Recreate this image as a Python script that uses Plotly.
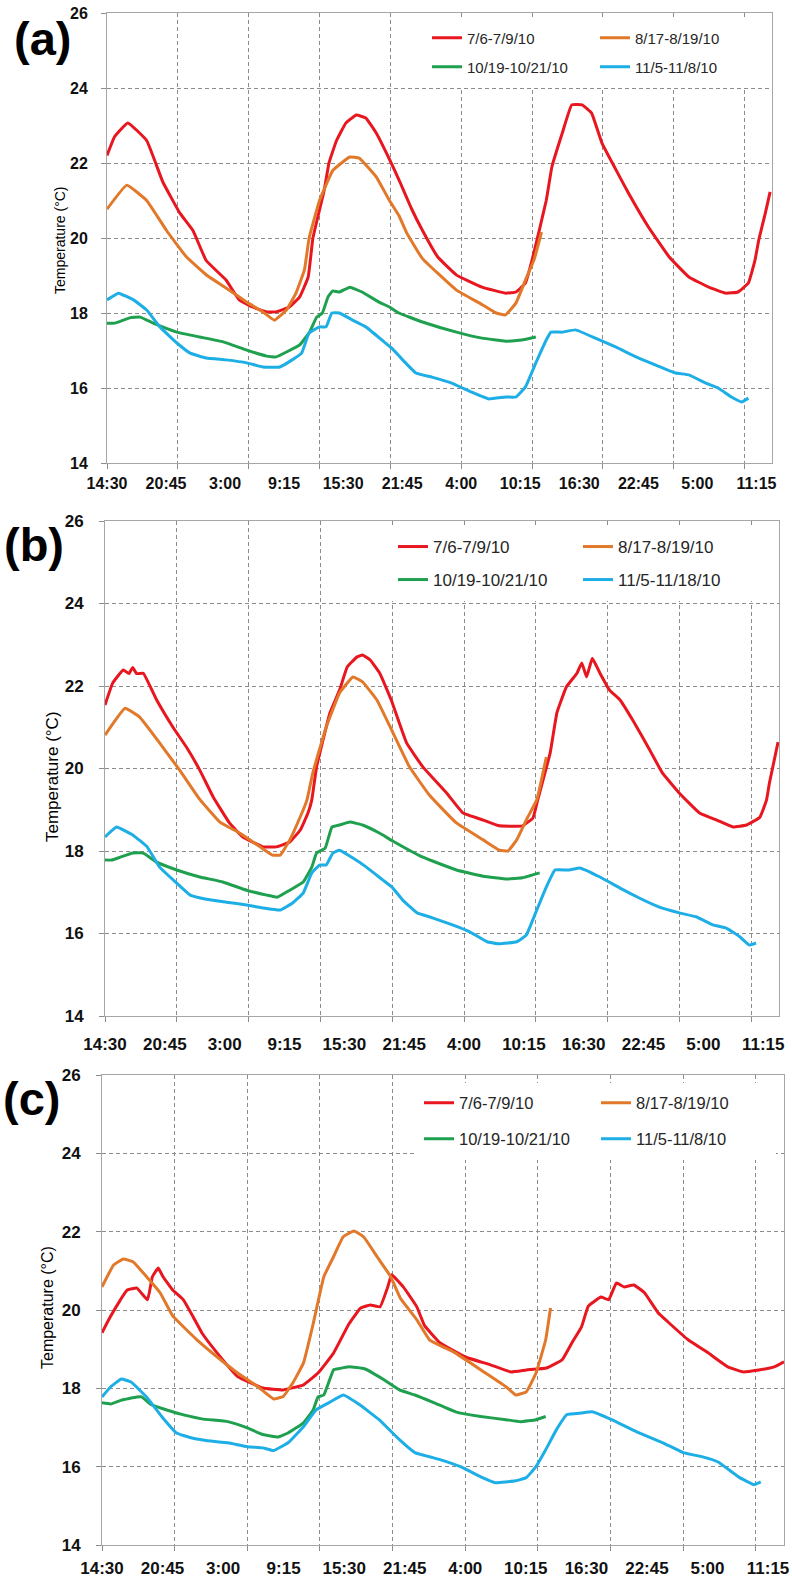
import plotly.graph_objects as go

# ---------------- data (hours since 14:30 on day 1, temperature in °C) ----------------
TICK_HOURS = [0, 6.25, 12.5, 18.75, 25, 31.25, 37.5, 43.75, 50, 56.25, 62.5, 68.75]
TICK_TEXT = ["14:30", "20:45", "3:00", "9:15", "15:30", "21:45", "4:00", "10:15",
             "16:30", "22:45", "5:00", "11:15"]

NAMES_A = ["7/6-7/9/10", "8/17-8/19/10", "10/19-10/21/10", "11/5-11/8/10"]
NAMES_B = ["7/6-7/9/10", "8/17-8/19/10", "10/19-10/21/10", "11/5-11/18/10"]
NAMES_C = ["7/6-7/9/10", "8/17-8/19/10", "10/19-10/21/10", "11/5-11/8/10"]

# Panel (a)
A_RED_H = [0, 0.8, 2.2, 4.2, 5.9, 7.7, 9.1, 10.5, 12.6, 14.0, 15.4, 16.9, 17.9, 19.3, 20.4, 21.3, 21.8,
           23.0, 23.5, 24.3, 25.3, 26.4, 27.4, 28.5, 29.9, 31.0, 32.2, 33.4, 35.0, 37.0, 39.7, 42.2, 43.3,
           44.3, 45.0, 46.5, 47.1, 48.2, 49.2, 50.3, 51.3, 52.4, 53.9, 55.2, 57.3, 59.5, 61.6, 63.7, 65.5,
           66.8, 67.9, 68.6, 69.0, 69.7, 70.2]
A_RED_T = [22.2, 22.7, 23.07, 22.6, 21.5, 20.67, 20.2, 19.4, 18.88, 18.35, 18.16, 18.03, 18.03, 18.16, 18.43,
           18.96, 20.0, 21.28, 22.0, 22.6, 23.07, 23.28, 23.2, 22.8, 22.1, 21.5, 20.8, 20.2, 19.5, 19.01,
           18.69, 18.53, 18.56, 18.8, 19.41, 21.0, 21.9, 22.8, 23.55, 23.55, 23.33, 22.53, 21.81, 21.2,
           20.3, 19.5, 18.96, 18.69, 18.53, 18.56, 18.8, 19.41, 19.95, 20.67, 21.23]
A_ORA_H = [0, 2.1, 4.2, 6.3, 8.4, 10.6, 12.6, 14.8, 16.5, 17.7, 19.0, 20.0, 20.9, 21.4, 22.5, 23.9, 25.7,
           26.7, 28.5, 29.9, 30.9, 31.7, 33.4, 37.0, 39.4, 41.2, 42.2, 43.3, 44.3, 45.2, 46.0]
A_ORA_T = [20.77, 21.41, 21.0, 20.2, 19.5, 19.0, 18.67, 18.29, 18.03, 17.81, 18.08, 18.53, 19.15, 20.0,
           21.0, 21.8, 22.16, 22.13, 21.63, 21.0, 20.6, 20.15, 19.45, 18.61, 18.27, 18.0, 17.95, 18.27,
           18.88, 19.41, 20.16]
A_GRN_H = [0, 0.85, 2.4, 3.5, 4.9, 7.4, 9.8, 12.3, 14.8, 16.9, 17.9, 19.0, 20.4, 21.4, 22.2, 22.8, 23.4,
           23.9, 24.6, 25.7, 27.0, 28.8, 29.9, 30.9, 33.4, 37.0, 39.7, 42.2, 43.9, 45.4]
A_GRN_T = [17.73, 17.73, 17.87, 17.89, 17.73, 17.49, 17.36, 17.23, 17.01, 16.85, 16.83, 16.96, 17.15,
           17.47, 17.89, 18.0, 18.43, 18.59, 18.56, 18.69, 18.56, 18.29, 18.16, 18.0, 17.76, 17.49,
           17.33, 17.25, 17.28, 17.36]
A_BLU_H = [0, 1.2, 2.8, 4.2, 5.6, 7.4, 8.8, 10.5, 12.6, 14.8, 16.5, 18.3, 19.6, 20.6, 21.4, 22.5, 23.2,
           23.8, 24.6, 26.0, 27.4, 29.1, 30.2, 31.3, 32.7, 34.4, 36.5, 38.6, 40.4, 42.2, 43.3, 44.3, 45.4,
           46.5, 47.0, 48.2, 49.6, 51.7, 53.9, 56.0, 58.1, 60.2, 61.6, 63.4, 64.7, 66.1, 67.2, 67.9]
A_BLU_T = [18.35, 18.53, 18.35, 18.08, 17.63, 17.2, 16.93, 16.8, 16.75, 16.67, 16.56, 16.56, 16.75, 16.93,
           17.47, 17.63, 17.63, 18.0, 18.0, 17.81, 17.63, 17.28, 17.05, 16.75, 16.4, 16.29, 16.13, 15.89,
           15.71, 15.76, 15.76, 16.03, 16.67, 17.28, 17.49, 17.49, 17.55, 17.33, 17.09, 16.83, 16.61, 16.4,
           16.35, 16.13, 16.0, 15.76, 15.63, 15.73]

# Panel (b)
B_RED_H = [0, 0.8, 1.9, 2.5, 2.9, 3.3, 4.0, 5.4, 7.1, 8.5, 9.9, 11.3, 13.0, 14.4, 16.5, 17.9, 19.3, 20.4,
           21.2, 21.6, 22.1, 23.5, 24.5, 25.3, 26.3, 26.9, 27.7, 28.7, 29.9, 31.5, 33.2, 35.7, 37.4, 39.5,
           41.2, 43.6, 44.7, 45.2, 46.5, 47.2, 48.2, 49.3, 49.8, 50.3, 50.9, 51.7, 52.7, 53.8, 55.1, 56.9,
           58.2, 60.0, 62.1, 63.9, 65.6, 67.0, 68.4, 69.1, 69.4, 70.3]
B_RED_T = [21.54, 22.07, 22.39, 22.3, 22.45, 22.3, 22.31, 21.66, 21.0, 20.52, 19.96, 19.31, 18.68, 18.34,
           18.1, 18.1, 18.22, 18.51, 18.92, 19.24, 20.04, 21.35, 21.9, 22.46, 22.7, 22.75, 22.63, 22.31,
           21.66, 20.62, 20.04, 19.4, 18.92, 18.75, 18.61, 18.61, 18.8, 19.24, 20.38, 21.35, 21.98, 22.31,
           22.56, 22.22, 22.67, 22.31, 21.9, 21.66, 21.18, 20.45, 19.9, 19.4, 18.92, 18.75, 18.58, 18.63,
           18.82, 19.24, 19.65, 20.64]
B_ORA_H = [0, 2.1, 3.6, 5.7, 7.8, 9.9, 12.0, 14.1, 16.2, 17.5, 18.3, 19.3, 20.4, 21.1, 21.7, 23.1, 24.5,
           25.9, 26.9, 28.4, 29.7, 31.8, 33.9, 36.7, 39.5, 41.2, 42.1, 43.0, 44.0, 45.1, 46.1]
B_ORA_T = [20.81, 21.46, 21.25, 20.62, 19.96, 19.25, 18.7, 18.43, 18.1, 17.9, 17.9, 18.27, 18.83, 19.24,
           19.89, 21.0, 21.83, 22.22, 22.1, 21.66, 21.05, 20.04, 19.35, 18.68, 18.27, 18.02, 18.0, 18.27,
           18.75, 19.24, 20.28]
B_GRN_H = [0, 0.7, 1.6, 2.9, 4.0, 5.4, 7.5, 9.9, 12.3, 14.8, 16.9, 18.0, 19.3, 20.7, 21.6, 22.1, 23.0,
           23.7, 24.5, 25.6, 26.9, 28.7, 30.0, 33.2, 36.7, 39.5, 42.0, 43.6, 45.4]
B_GRN_T = [17.78, 17.78, 17.85, 17.95, 17.95, 17.73, 17.54, 17.37, 17.25, 17.05, 16.93, 16.88, 17.05,
           17.25, 17.61, 17.95, 18.07, 18.58, 18.63, 18.7, 18.63, 18.43, 18.25, 17.85, 17.54, 17.39,
           17.32, 17.35, 17.47]
B_BLU_H = [0, 1.2, 2.9, 4.4, 5.7, 7.5, 8.9, 10.6, 12.7, 14.8, 16.5, 18.3, 19.6, 20.7, 21.6, 22.4, 23.1,
           23.8, 24.5, 25.9, 27.3, 29.0, 30.0, 31.1, 32.6, 34.2, 36.3, 38.1, 39.9, 41.2, 43.0, 44.0, 45.1,
           46.1, 47.0, 48.5, 49.6, 51.7, 53.8, 55.8, 57.9, 60.0, 61.8, 63.5, 64.9, 66.3, 67.3, 68.0]
B_BLU_T = [18.34, 18.58, 18.39, 18.1, 17.61, 17.22, 16.93, 16.83, 16.76, 16.69, 16.62, 16.57, 16.74,
           16.98, 17.47, 17.66, 17.66, 17.95, 18.02, 17.83, 17.61, 17.3, 17.12, 16.81, 16.5, 16.38, 16.21,
           16.04, 15.8, 15.75, 15.8, 15.96, 16.57, 17.13, 17.54, 17.54, 17.59, 17.37, 17.1, 16.86, 16.64,
           16.5, 16.4, 16.21, 16.13, 15.92, 15.72, 15.77]

# Panel (c)
C_RED_H = [0, 0.8, 1.9, 2.6, 3.6, 4.7, 5.2, 5.8, 6.3, 7.3, 8.4, 9.4, 10.3, 11.9, 14.0, 16.6, 18.7, 20.8,
           22.3, 23.9, 25.5, 26.7, 27.7, 28.7, 29.5, 29.9, 31.1, 32.5, 33.3, 34.9, 37.5, 40.1, 42.2, 43.8,
           45.9, 47.5, 48.5, 49.5, 50.2, 51.5, 52.3, 53.1, 53.9, 54.9, 56.0, 57.4, 58.4, 60.5, 62.6, 64.6,
           66.2, 67.8, 69.4, 70.4]
C_RED_T = [19.42, 19.8, 20.26, 20.51, 20.56, 20.26, 20.85, 21.07, 20.85, 20.51, 20.26, 19.83, 19.42, 18.9,
           18.3, 18.01, 17.96, 18.09, 18.39, 18.9, 19.65, 20.05, 20.13, 20.08, 20.59, 20.9, 20.59, 20.08,
           19.6, 19.16, 18.8, 18.6, 18.42, 18.47, 18.52, 18.73, 19.16, 19.57, 20.1, 20.33, 20.26, 20.69,
           20.59, 20.64, 20.44, 19.93, 19.7, 19.24, 18.9, 18.55, 18.42, 18.47, 18.55, 18.68]
C_ORA_H = [0, 1.2, 2.2, 3.2, 4.6, 6.0, 7.3, 9.8, 11.9, 14.0, 16.1, 17.7, 18.7, 19.7, 20.8, 21.8, 22.9,
           23.9, 24.9, 26.0, 27.0, 28.4, 29.8, 30.8, 32.5, 33.8, 36.5, 39.6, 41.7, 42.7, 43.8, 44.8, 45.8,
           46.3]
C_ORA_T = [20.59, 21.15, 21.3, 21.23, 20.85, 20.44, 19.85, 19.24, 18.8, 18.39, 18.04, 17.73, 17.79, 18.14,
           18.65, 19.65, 20.85, 21.36, 21.87, 22.02, 21.87, 21.36, 20.85, 20.3, 19.75, 19.24, 18.9, 18.39,
           18.04, 17.83, 17.91, 18.39, 19.24, 20.05]
C_GRN_H = [0, 0.9, 2.0, 3.6, 4.1, 5.1, 7.7, 10.3, 13.0, 15.0, 16.6, 18.2, 19.2, 20.8, 21.8, 22.3, 22.9,
           23.9, 24.4, 25.5, 27.1, 29.1, 30.7, 32.3, 34.3, 36.5, 39.1, 41.7, 43.2, 44.8, 45.8]
C_GRN_T = [17.63, 17.6, 17.7, 17.78, 17.78, 17.58, 17.37, 17.22, 17.15, 16.99, 16.82, 16.76, 16.86, 17.12,
           17.45, 17.78, 17.83, 18.47, 18.5, 18.55, 18.5, 18.22, 17.96, 17.83, 17.63, 17.4, 17.28, 17.2,
           17.15, 17.2, 17.28]
C_BLU_H = [0, 0.9, 2.0, 3.0, 4.6, 6.2, 7.7, 9.3, 10.9, 13.0, 15.0, 16.6, 17.7, 19.2, 20.8, 22.1, 23.4,
           24.9, 26.6, 28.6, 30.7, 32.3, 34.9, 37.0, 39.1, 40.6, 42.7, 43.8, 44.8, 45.8, 46.9, 48.0, 49.5,
           50.6, 52.6, 55.2, 57.9, 60.0, 62.0, 63.6, 65.7, 67.3, 68.0]
C_BLU_T = [17.78, 18.04, 18.24, 18.16, 17.78, 17.27, 16.86, 16.73, 16.66, 16.61, 16.51, 16.48, 16.41,
           16.61, 17.02, 17.45, 17.63, 17.83, 17.58, 17.2, 16.69, 16.36, 16.18, 16.0, 15.74, 15.59, 15.64,
           15.72, 16.0, 16.43, 16.94, 17.33, 17.37, 17.4, 17.2, 16.89, 16.61, 16.36, 16.25, 16.12, 15.74,
           15.54, 15.61]

SERIES = [
    [(A_RED_H, A_RED_T), (A_ORA_H, A_ORA_T), (A_GRN_H, A_GRN_T), (A_BLU_H, A_BLU_T)],
    [(B_RED_H, B_RED_T), (B_ORA_H, B_ORA_T), (B_GRN_H, B_GRN_T), (B_BLU_H, B_BLU_T)],
    [(C_RED_H, C_RED_T), (C_ORA_H, C_ORA_T), (C_GRN_H, C_GRN_T), (C_BLU_H, C_BLU_T)],
]
NAMES = [NAMES_A, NAMES_B, NAMES_C]
PANEL_LABELS = ["(a)", "(b)", "(c)"]

# ---------------- style / layout ----------------
W, H = 792, 1581
COLORS = ["#E8161E", "#E27829", "#1FA04F", "#1DAEE6"]
X_RANGE = [0, 70.4]
Y_RANGE = [14, 26]
GRID = "#8C8C8C"
FRAME = "#A6A6A6"
TICKFAM = "Liberation Sans, Arial"
TXTFAM = "Liberation Sans, Arial"

PANELS = [
    dict(x0=107, x1=772, yt=13, yb=463, xtick=16, ytick=16, xstand=9, ystand=10, lw=3,
         leg_x=424, leg_y=(38, 67), leg_w=123, leg_font=15,
         lab=(12, 39), title=(60, 240), title_size=14),
    dict(x0=105, x1=779, yt=521, yb=1016, xtick=17, ytick=17, xstand=16, ystand=12, lw=3,
         leg_x=390, leg_y=(547, 580), leg_w=140, leg_font=17,
         lab=(2, 544), title=(52, 777), title_size=17),
    dict(x0=102, x1=784, yt=1075, yb=1545, xtick=17, ytick=17, xstand=11, ystand=12, lw=3,
         leg_x=416, leg_y=(1103, 1139), leg_w=132, leg_font=16.5,
         lab=(1, 1098), title=(47, 1308), title_size=16),
]


def fx(px):
    return px / W


def fy(py):
    return 1 - py / H


fig = go.Figure()
layout = dict(width=W, height=H, margin=dict(l=0, r=0, t=0, b=0, autoexpand=False),
              paper_bgcolor="white", plot_bgcolor="white", showlegend=True,
              annotations=[])

for i, p in enumerate(PANELS):
    xi = i + 1
    li = i + 4
    xname = "x" if xi == 1 else f"x{xi}"
    yname = "y" if xi == 1 else f"y{xi}"
    lname = f"x{li}"
    leg_row1 = "legend" if i == 0 else f"legend{2 * i + 1}"
    leg_row2 = f"legend{2 * i + 2}"

    for k, ((hh, tt), name) in enumerate(zip(SERIES[i], NAMES[i])):
        fig.add_trace(go.Scatter(
            x=hh, y=tt, name=name, mode="lines",
            line=dict(color=COLORS[k], width=p["lw"], shape="spline", smoothing=0.3),
            xaxis=xname, yaxis=yname,
            legend=leg_row1 if k < 2 else leg_row2,
            hoverinfo="skip"))
    # empty trace to carry the time-label axis
    fig.add_trace(go.Scatter(x=[], y=[], xaxis=lname, yaxis=yname, showlegend=False,
                             hoverinfo="skip"))

    dom_x = [fx(p["x0"]), fx(p["x1"])]
    dom_y = [fy(p["yb"]), fy(p["yt"])]
    layout["xaxis" + ("" if xi == 1 else str(xi))] = dict(
        domain=dom_x, range=X_RANGE, anchor=yname, automargin=False,
        tick0=0, dtick=7.5, showticklabels=False,
        ticks="outside", ticklen=5, tickcolor=GRID, tickwidth=1,
        showgrid=True, gridcolor=GRID, griddash="4px,3px", gridwidth=1,
        showline=True, linecolor=FRAME, linewidth=1, mirror=True, zeroline=False)
    layout[f"xaxis{li}"] = dict(
        overlaying=xname, anchor=yname, side="bottom", range=X_RANGE, automargin=False,
        tickmode="array", tickvals=TICK_HOURS, ticktext=TICK_TEXT,
        showgrid=False, showline=False, zeroline=False, ticks="",
        ticklabelstandoff=p["xstand"],
        tickfont=dict(family=TICKFAM, size=p["xtick"], color="#111111", weight="bold"))
    layout["yaxis" + ("" if xi == 1 else str(xi))] = dict(
        domain=dom_y, range=Y_RANGE, anchor=xname, automargin=False,
        tick0=14, dtick=2, ticks="outside", ticklen=5, tickcolor=GRID,
        showgrid=True, gridcolor=GRID, griddash="4px,3px", gridwidth=1,
        showline=True, linecolor=FRAME, linewidth=1, mirror=True, zeroline=False,
        ticklabelstandoff=p["ystand"],
        tickfont=dict(family=TICKFAM, size=p["ytick"], color="#111111", weight="bold"))

    for leg, ry in ((leg_row1, p["leg_y"][0]), (leg_row2, p["leg_y"][1])):
        layout[leg] = dict(
            x=fx(p["leg_x"]), y=fy(ry), xanchor="left", yanchor="middle",
            orientation="h", entrywidth=p["leg_w"], entrywidthmode="pixels",
            bgcolor="white", bordercolor="white", borderwidth=3,
            font=dict(family=TXTFAM, size=p["leg_font"], color="#262626"),
            itemclick=False, itemdoubleclick=False)

    layout["annotations"].append(dict(
        text=PANEL_LABELS[i], x=fx(p["lab"][0]), y=fy(p["lab"][1]),
        xref="paper", yref="paper", xanchor="left", yanchor="middle", showarrow=False,
        font=dict(family=TXTFAM, size=47, color="black", weight="bold")))
    layout["annotations"].append(dict(
        text="Temperature (°C)", x=fx(p["title"][0]), y=fy(p["title"][1]),
        xref="paper", yref="paper", xanchor="center", yanchor="middle",
        showarrow=False, textangle=-90,
        font=dict(family=TXTFAM, size=p["title_size"], color="black")))

fig.update_layout(**layout)
fig.write_html("out.html", config={"displayModeBar": False, "staticPlot": True},
               post_script="document.body.style.margin='0';document.body.style.overflow='hidden';")
